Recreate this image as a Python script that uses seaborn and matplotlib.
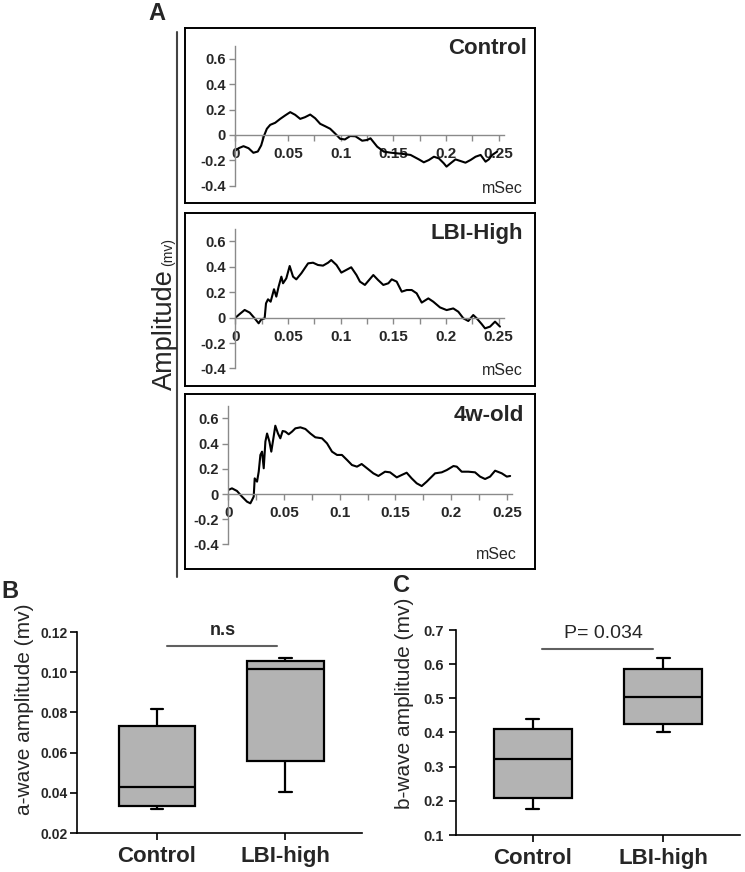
import numpy as np
import pandas as pd
import matplotlib
matplotlib.use("Agg")
import matplotlib.pyplot as plt
import seaborn as sns
from matplotlib.lines import Line2D
from matplotlib.ticker import MultipleLocator

W, H = 745, 872

# ERG traces (time in mSec, amplitude in mv)
ctrl_t = [0, 0.003, 0.0076, 0.0124, 0.017, 0.0212, 0.0244, 0.027, 0.0298, 0.033,
          0.0377, 0.0425, 0.0472, 0.052, 0.0567, 0.0615, 0.066, 0.071, 0.0757, 0.0805,
          0.085, 0.09, 0.095, 0.0995, 0.104, 0.109, 0.114, 0.1204, 0.1252, 0.1283,
          0.1347, 0.141, 0.1474, 0.16, 0.1664, 0.1743, 0.179, 0.1838, 0.1886, 0.1933,
          0.198, 0.2006, 0.2044, 0.2091, 0.2139, 0.2186, 0.2234, 0.2282, 0.233, 0.2377,
          0.2408, 0.244, 0.2487]
ctrl_v = [-0.122, -0.104, -0.088, -0.104, -0.14, -0.13, -0.082, -0.009, 0.049, 0.08,
          0.096, 0.127, 0.154, 0.18, 0.159, 0.127, 0.14, 0.161, 0.132, 0.088,
          0.07, 0.049, 0.009, -0.03, -0.035, -0.008, -0.01, -0.045, -0.039, -0.026,
          -0.092, -0.131, -0.139, -0.15, -0.157, -0.192, -0.215, -0.197, -0.171, -0.184,
          -0.223, -0.249, -0.223, -0.192, -0.205, -0.218, -0.197, -0.171, -0.157, -0.21,
          -0.192, -0.157, -0.131]

lbi_t = [0, 0.004, 0.0087, 0.0135, 0.0182, 0.022, 0.0245, 0.0277, 0.029, 0.0309,
         0.0334, 0.0366, 0.0388, 0.041, 0.0436, 0.0452, 0.0483, 0.0515, 0.0547, 0.0578,
         0.0626, 0.069, 0.0737, 0.0784, 0.0832, 0.088, 0.091, 0.096, 0.1006, 0.1053,
         0.11, 0.115, 0.1183, 0.123, 0.131, 0.1355, 0.1405, 0.1453, 0.1485, 0.1532,
         0.158, 0.1628, 0.1675, 0.1722, 0.177, 0.1833, 0.188, 0.1944, 0.2007, 0.207,
         0.2118, 0.2166, 0.2213, 0.226, 0.2293, 0.234, 0.2372, 0.242, 0.2467, 0.2514]
lbi_v = [0, 0.029, 0.061, 0.04, -0.005, -0.044, -0.013, -0.005, 0.113, 0.145,
         0.126, 0.224, 0.166, 0.245, 0.323, 0.271, 0.31, 0.407, 0.323, 0.302,
         0.35, 0.428, 0.433, 0.415, 0.41, 0.433, 0.454, 0.415, 0.355, 0.376,
         0.397, 0.336, 0.284, 0.258, 0.336, 0.297, 0.258, 0.271, 0.302, 0.284,
         0.205, 0.218, 0.218, 0.192, 0.119, 0.152, 0.126, 0.081, 0.06, 0.073,
         0.047, -0.005, -0.026, 0.021, -0.005, -0.05, -0.084, -0.07, -0.031, -0.07]

old_t = [0, 0.0033, 0.0078, 0.0123, 0.0168, 0.0198, 0.0213, 0.0228, 0.0237, 0.0258,
         0.0273, 0.0288, 0.0303, 0.0318, 0.0333, 0.0348, 0.0369, 0.0386, 0.0407, 0.0422,
         0.0446, 0.0467, 0.0488, 0.0512, 0.0542, 0.0572, 0.0602, 0.0647, 0.0692, 0.0737,
         0.0781, 0.0841, 0.0886, 0.0931, 0.0976, 0.102, 0.1066, 0.111, 0.1155, 0.1197,
         0.1257, 0.1302, 0.1347, 0.1407, 0.1452, 0.1512, 0.1557, 0.1601, 0.1646, 0.1691,
         0.1736, 0.1781, 0.1856, 0.1916, 0.1961, 0.2021, 0.2051, 0.2095, 0.2155, 0.2215,
         0.226, 0.2305, 0.235, 0.2395, 0.2455, 0.25, 0.253]
old_v = [0.032, 0.045, 0.024, -0.021, -0.061, -0.074, -0.048, -0.021, 0.124, 0.098,
         0.177, 0.31, 0.336, 0.204, 0.416, 0.48, 0.416, 0.336, 0.455, 0.542,
         0.48, 0.442, 0.5, 0.495, 0.474, 0.495, 0.521, 0.529, 0.516, 0.48,
         0.45, 0.442, 0.402, 0.336, 0.31, 0.31, 0.27, 0.23, 0.217, 0.238,
         0.196, 0.164, 0.143, 0.177, 0.172, 0.132, 0.151, 0.169, 0.124, 0.085,
         0.063, 0.098, 0.164, 0.172, 0.19, 0.222, 0.217, 0.177, 0.177, 0.172,
         0.138, 0.119, 0.138, 0.185, 0.164, 0.138, 0.143]

amp_yticks = [-0.4, -0.2, 0, 0.2, 0.4, 0.6]
amp_ylabels = ["-0.4", "-0.2", "0", "0.2", "0.4", "0.6"]
time_xticks = [0, 0.05, 0.1, 0.15, 0.2, 0.25]
time_xlabels = ["0", "0.05", "0.1", "0.15", "0.2", "0.25"]

# box plot panels: min, Q1, median, Q3, max per group
groups = ["Control", "LBI-high"]
a_wave_ctrl = [0.032, 0.0336, 0.043, 0.0732, 0.0817]
a_wave_lbi = [0.0405, 0.056, 0.1017, 0.1057, 0.1069]
b_wave_ctrl = [0.175, 0.209, 0.322, 0.409, 0.439]
b_wave_lbi = [0.401, 0.425, 0.503, 0.586, 0.617]

sns.set_style("ticks")
plt.rcParams['font.family'] = ['Liberation Sans', 'DejaVu Sans']
plt.rcParams['axes.unicode_minus'] = False

fig = plt.figure(figsize=(W / 100, H / 100), dpi=100)


def px_axes(x0, y0, x1, y1):
    return fig.add_axes([x0 / W, 1 - y1 / H, (x1 - x0) / W, (y1 - y0) / H])


def fig_xy(x, y):
    return x / W, 1 - y / H


# ---------- Panel A ----------
trace_panels = [
    ("Control", ctrl_t, ctrl_v, (185, 28, 535, 203), (235.5, 1052, 135, 127), (527, 48), (523, 188)),
    ("LBI-High", lbi_t, lbi_v, (185, 213, 535, 386), (235.5, 1052, 317.7, 127), (523, 233), (523, 370)),
    ("4w-old", old_t, old_v, (185, 394, 535, 569), (228.3, 1114, 494, 126), (524, 415), (517, 554)),
]

for title, t, v, box, (zx, sx, zy, sy), tpos, mpos in trace_panels:
    frame = px_axes(*box)
    frame.set_xticks([])
    frame.set_yticks([])
    for sp in frame.spines.values():
        sp.set_visible(True)
        sp.set_color("black")
        sp.set_linewidth(1.4)

    ax = px_axes(zx, zy - 0.7 * sy, zx + 0.255 * sx, zy + 0.4 * sy)
    ax.patch.set_alpha(0)
    sns.lineplot(x=t, y=v, ax=ax, color="black", lw=1.5)
    ax.set_xlim(0, 0.255)
    ax.set_ylim(-0.4, 0.7)
    ax.spines["top"].set_visible(False)
    ax.spines["right"].set_visible(False)
    ax.spines["bottom"].set_position(("data", 0))
    for s in ("left", "bottom"):
        ax.spines[s].set_color("#8a8a8a")
        ax.spines[s].set_linewidth(1.0)
    ax.set_yticks(amp_yticks)
    ax.set_yticklabels(amp_ylabels, fontsize=10.5, fontweight="bold")
    ax.set_xticks(time_xticks)
    ax.set_xticklabels(time_xlabels, fontsize=11, fontweight="bold")
    ax.xaxis.set_minor_locator(MultipleLocator(0.025))
    ax.tick_params(which="both", direction="out", length=4, width=1, color="#8a8a8a")
    ax.tick_params(axis="y", pad=3)
    ax.tick_params(axis="x", pad=4.5)
    ax.set_xlabel("")
    ax.set_ylabel("")

    fig.text(*fig_xy(*tpos), title, ha="right", va="center", fontsize=16, fontweight="bold")
    fig.text(*fig_xy(*mpos), "mSec", ha="right", va="center", fontsize=11.5)

fig.add_artist(Line2D([177 / W, 177 / W], [1 - 32 / H, 1 - 577 / H], color="#444444", lw=1.5))
fig.text(*fig_xy(172, 390), "Amplitude", rotation=90, rotation_mode="anchor",
         ha="left", va="baseline", fontsize=19.5)
fig.text(*fig_xy(172, 266), "(mv)", rotation=90, rotation_mode="anchor",
         ha="left", va="baseline", fontsize=10)
fig.text(*fig_xy(157, 14), "A", ha="center", va="center", fontsize=17, fontweight="bold")

# ---------- Panels B and C ----------
box_panels = [
    ("B", (10, 591), (77, 632, 362, 833), a_wave_ctrl, a_wave_lbi, (0.02, 0.12),
     [0.02, 0.04, 0.06, 0.08, 0.10, 0.12], ["0.02", "0.04", "0.06", "0.08", "0.10", "0.12"], 2, 10,
     (-0.625, 1.6), "a-wave amplitude (mv)", (-0.15, 0.617),
     0.113, (0.08, 0.94), "n.s", (0.516, 0.1185), dict(fontsize=13, fontweight="bold")),
    ("C", (401, 585), (456, 630, 740, 835), b_wave_ctrl, b_wave_lbi, (0.1, 0.7),
     [0.1, 0.2, 0.3, 0.4, 0.5, 0.6, 0.7], ["0.1", "0.2", "0.3", "0.4", "0.5", "0.6", "0.7"], 4, 10.5,
     (-0.59, 1.59), "b-wave amplitude (mv)", (-0.148, 0.644),
     0.644, (0.07, 0.92), "P= 0.034", (0.54, 0.677), dict(fontsize=14)),
]

for (letter, lpos, box, ctrl, lbi, ylim, yt, ytl, ypad, yfs, xlim, ylab, ylab_pos,
     sig_y, sig_x, sig_txt, sig_pos, sig_kw) in box_panels:
    ax = px_axes(*box)
    df = pd.DataFrame({"group": [groups[0]] * len(ctrl) + [groups[1]] * len(lbi),
                       "amp": ctrl + lbi})
    sns.boxplot(data=df, x="group", y="amp", ax=ax, color="#b3b3b3", saturation=1,
                width=0.6, whis=(0, 100), linecolor="black", linewidth=1.6,
                capwidths=0.1, fliersize=0)
    ax.set_ylim(*ylim)
    ax.set_xlim(*xlim)
    ax.set_yticks(yt)
    ax.set_yticklabels(ytl, fontsize=yfs, fontweight="bold")
    ax.set_xticks([0, 1])
    ax.set_xticklabels(groups, fontsize=16, fontweight="bold")
    ax.spines["top"].set_visible(False)
    ax.spines["right"].set_visible(False)
    for s in ("left", "bottom"):
        ax.spines[s].set_color("black")
        ax.spines[s].set_linewidth(1.2)
    ax.tick_params(direction="out", length=5, width=1.2, color="black", pad=4)
    ax.tick_params(axis="y", pad=ypad)
    ax.set_xlabel("")
    ax.set_ylabel(ylab, fontsize=15)
    ax.yaxis.set_label_coords(*ylab_pos)
    ax.plot(sig_x, [sig_y, sig_y], color="#606060", lw=1.5, clip_on=False)
    ax.text(sig_pos[0], sig_pos[1], sig_txt, ha="center", va="baseline", clip_on=False, **sig_kw)
    fig.text(*fig_xy(*lpos), letter, ha="center", va="center", fontsize=17, fontweight="bold")

fig.savefig("out.png", dpi=100)
